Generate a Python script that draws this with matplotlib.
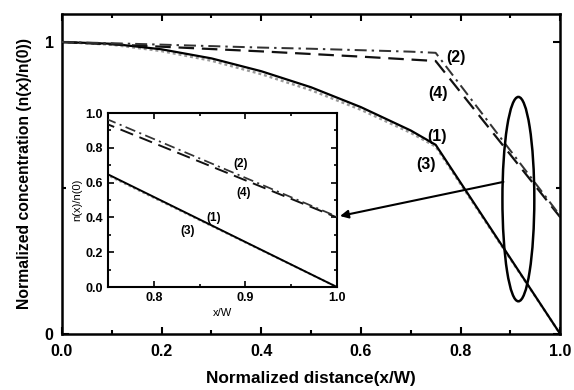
import matplotlib
matplotlib.use("Agg")
import matplotlib.pyplot as plt
from matplotlib.patches import Ellipse
from matplotlib.ticker import MultipleLocator

x = [0.0, 0.1, 0.2, 0.3, 0.4, 0.5, 0.6, 0.7, 0.75, 1.0]
curve1 = [1.0, 0.994, 0.975, 0.944, 0.900, 0.845, 0.777, 0.697, 0.648, 0.0]
curve3 = [1.0, 0.991, 0.969, 0.936, 0.890, 0.835, 0.768, 0.689, 0.642, 0.0]
curve2 = [1.0, 0.996, 0.991, 0.986, 0.981, 0.977, 0.972, 0.967, 0.963, 0.405]
curve4 = [1.0, 0.992, 0.984, 0.976, 0.968, 0.959, 0.950, 0.940, 0.935, 0.400]

main_xticks = [0.0, 0.2, 0.4, 0.6, 0.8, 1.0]
main_yticks = [0, 1]
inset_xticks = [0.8, 0.9, 1.0]
inset_yticks = [0.0, 0.2, 0.4, 0.6, 0.8, 1.0]

plt.rcParams['font.family'] = ['Liberation Sans', 'DejaVu Sans']
plt.rcParams['font.weight'] = 'bold'

fig = plt.figure(figsize=(5.74, 3.90), dpi=100)
ax = fig.add_axes([0.108, 0.1436, 0.868, 0.8205])

def style_lines(a, lw):
    a.plot(x, curve3, color='#9a9a9a', lw=lw*1.1, ls=(0, (1.2, 1.2)), zorder=2)
    a.plot(x, curve1, color='black', lw=lw, ls='-', zorder=3)
    a.plot(x, curve4, color='#111111', lw=lw, ls=(0, (7, 3.5)), zorder=3)
    a.plot(x, curve2, color='#333333', lw=lw*0.9, ls=(0, (6, 2.5, 1.2, 2.5)), zorder=3)

style_lines(ax, 1.6)
ax.set_xlim(0, 1.0)
ax.set_ylim(0, 1.096)
ax.set_xticks(main_xticks)
ax.set_xticklabels([f"{v:.1f}" for v in main_xticks], fontsize=11.5, fontweight='bold')
ax.set_yticks(main_yticks)
ax.set_yticklabels([str(v) for v in main_yticks], fontsize=11.5, fontweight='bold')
ax.xaxis.set_minor_locator(MultipleLocator(0.1))
ax.yaxis.set_minor_locator(MultipleLocator(0.5))
ax.tick_params(which='both', direction='in', top=True, right=True, width=1.5)
ax.tick_params(which='major', length=5)
ax.tick_params(which='minor', length=3)
ax.tick_params(axis='x', which='major', pad=7)
ax.tick_params(axis='y', which='major', pad=6)
for s in ax.spines.values():
    s.set_linewidth(1.8)
ax.set_xlabel('Normalized distance(x/W)', fontsize=12.4, fontweight='bold', labelpad=9)
ax.set_ylabel('Normalized concentration (n(x)/n(0))', fontsize=11.3, fontweight='bold', labelpad=9)

ax.text(0.79, 0.948, '(2)', fontsize=11.5, fontweight='bold', va='center', ha='center')
ax.text(0.755, 0.823, '(4)', fontsize=11.5, fontweight='bold', va='center', ha='center')
ax.text(0.753, 0.675, '(1)', fontsize=11.5, fontweight='bold', va='center', ha='center')
ax.text(0.73, 0.58, '(3)', fontsize=11.5, fontweight='bold', va='center', ha='center')

ell = Ellipse((0.916, 0.462), 0.064, 0.70, fill=False, lw=1.8, color='black', zorder=4)
ax.add_patch(ell)
ax.annotate('', xy=(0.558, 0.404), xytext=(0.886, 0.521),
            arrowprops=dict(arrowstyle='-|>', color='black', lw=1.5,
                            mutation_scale=12, shrinkA=0, shrinkB=0), zorder=5)

ins = fig.add_axes([0.188, 0.264, 0.399, 0.446])
style_lines(ins, 1.4)
ins.set_xlim(0.75, 1.0)
ins.set_ylim(0.0, 1.0)
ins.set_xticks(inset_xticks)
ins.set_xticklabels([f"{v:.1f}" for v in inset_xticks], fontsize=9, fontweight='bold')
ins.set_yticks(inset_yticks)
ins.set_yticklabels([f"{v:.1f}" for v in inset_yticks], fontsize=9, fontweight='bold')
ins.xaxis.set_minor_locator(MultipleLocator(0.05))
ins.yaxis.set_minor_locator(MultipleLocator(0.1))
ins.tick_params(which='both', direction='in', top=True, right=True, width=1.2)
ins.tick_params(which='major', length=4)
ins.tick_params(which='minor', length=2.5)
for s in ins.spines.values():
    s.set_linewidth(1.5)
ins.set_xlabel('x/W', fontsize=8, fontweight='normal', labelpad=3)
ins.set_ylabel('n(x)/n(0)', fontsize=8, fontweight='normal', labelpad=2)
ins.text(0.895, 0.71, '(2)', fontsize=8.5, fontweight='bold', ha='center', va='center')
ins.text(0.898, 0.54, '(4)', fontsize=8.5, fontweight='bold', ha='center', va='center')
ins.text(0.865, 0.396, '(1)', fontsize=8.5, fontweight='bold', ha='center', va='center')
ins.text(0.837, 0.322, '(3)', fontsize=8.5, fontweight='bold', ha='center', va='center')

fig.savefig('out.png', dpi=100)
